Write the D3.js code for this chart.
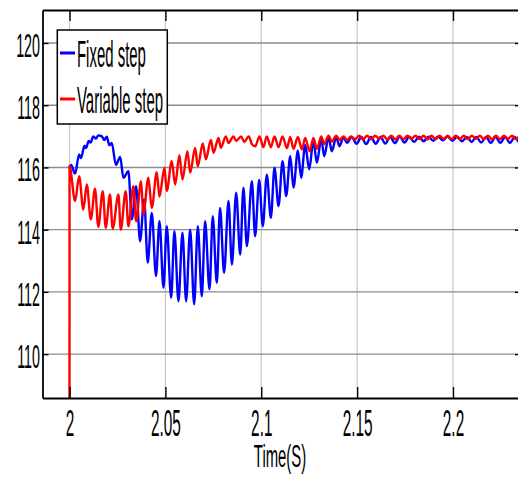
<!DOCTYPE html>
<html>
<head>
<meta charset="utf-8">
<script src="https://cdn.jsdelivr.net/npm/d3@7"></script>
<style>
  body { margin: 0; background: #fff; }
  svg { display: block; }
</style>
</head>
<body>
<div id="chart"></div>
<script>
// Tick values and labels
var xTicks = [2, 2.05, 2.1, 2.15, 2.2];
var xTickLabels = ['2', '2.05', '2.1', '2.15', '2.2'];
var yTicks = [110, 112, 114, 116, 118, 120];
var yTickLabels = ['110', '112', '114', '116', '118', '120'];
var seriesNames = ['Fixed step', 'Variable step'];

// Fixed step (blue): [time, value] at peaks and troughs
var fixedStep = [
  [2.0000, 116.00], [2.0008, 116.08], [2.0029, 115.80], [2.0050, 116.42], [2.0060, 116.30],
  [2.0078, 116.70], [2.0086, 116.62], [2.0100, 116.85], [2.0110, 116.80], [2.0124, 117.00],
  [2.0138, 116.93], [2.0150, 117.03], [2.0168, 117.00], [2.0182, 116.88], [2.0194, 116.99],
  [2.0208, 116.71], [2.0220, 116.79], [2.0242, 116.08], [2.0264, 116.34], [2.0281, 115.67],
  [2.0307, 115.88], [2.0325, 114.33], [2.0347, 115.40], [2.0368, 113.63], [2.0389, 114.97],
  [2.0408, 112.94], [2.0429, 114.54], [2.0451, 112.51], [2.0469, 114.27], [2.0490, 112.13],
  [2.0507, 114.11], [2.0530, 111.81], [2.0547, 113.95], [2.0568, 111.70], [2.0589, 113.90],
  [2.0608, 111.70], [2.0629, 114.00], [2.0650, 111.60], [2.0669, 114.11], [2.0690, 111.86],
  [2.0707, 114.27], [2.0730, 112.08], [2.0747, 114.43], [2.0768, 112.29], [2.0785, 114.70],
  [2.0806, 112.61], [2.0829, 114.92], [2.0847, 112.88], [2.0869, 115.19], [2.0890, 113.20],
  [2.0907, 115.35], [2.0925, 113.47], [2.0951, 115.56], [2.0968, 113.79], [2.0989, 115.60],
  [2.1008, 114.11], [2.1029, 115.77], [2.1050, 114.38], [2.1069, 115.99], [2.1090, 114.76],
  [2.1111, 116.20], [2.1130, 115.08], [2.1151, 116.36], [2.1168, 115.35], [2.1191, 116.55],
  [2.1208, 115.67], [2.1229, 116.72], [2.1250, 115.94], [2.1272, 116.85], [2.1290, 116.15],
  [2.1313, 116.93], [2.1328, 116.36], [2.1351, 116.97], [2.1368, 116.52], [2.1391, 116.97],
  [2.1408, 116.68], [2.1429, 116.97], [2.1447, 116.79], [2.1472, 116.98], [2.1497, 116.76],
  [2.1522, 116.98], [2.1547, 116.75], [2.1572, 116.98], [2.1597, 116.76], [2.1622, 116.98],
  [2.1647, 116.77], [2.1672, 116.98], [2.1697, 116.78], [2.1722, 116.99], [2.1747, 116.80],
  [2.1772, 116.99], [2.1797, 116.82], [2.1822, 116.99], [2.1847, 116.84], [2.1872, 116.99],
  [2.1897, 116.86], [2.1922, 116.99], [2.1947, 116.87], [2.1972, 116.99], [2.1997, 116.86],
  [2.2022, 116.99], [2.2047, 116.84], [2.2072, 116.98], [2.2097, 116.82], [2.2122, 116.98],
  [2.2147, 116.80], [2.2172, 116.98], [2.2197, 116.79], [2.2222, 116.98], [2.2247, 116.79],
  [2.2272, 116.98], [2.2297, 116.79], [2.2322, 116.98], [2.2347, 116.80], [2.2372, 116.98]
];

// Variable step (red)
var variableStep = [
  [1.99995, 100.0], [2.0000, 116.04], [2.0029, 114.92], [2.0050, 115.72], [2.0072, 114.65],
  [2.0090, 115.45], [2.0111, 114.33], [2.0133, 115.32], [2.0150, 114.09], [2.0173, 115.24],
  [2.0189, 114.06], [2.0211, 115.13], [2.0225, 114.03], [2.0255, 115.13], [2.0267, 114.00],
  [2.0293, 115.24], [2.0307, 114.11], [2.0333, 115.40], [2.0347, 114.27], [2.0373, 115.56],
  [2.0385, 114.49], [2.0411, 115.67], [2.0429, 114.70], [2.0455, 115.85], [2.0469, 115.06],
  [2.0495, 115.99], [2.0507, 115.24], [2.0533, 116.20], [2.0551, 115.45], [2.0573, 116.39],
  [2.0589, 115.61], [2.0615, 116.52], [2.0629, 115.83], [2.0655, 116.63], [2.0669, 116.04],
  [2.0695, 116.77], [2.0711, 116.26], [2.0737, 116.88], [2.0751, 116.47], [2.0777, 116.95],
  [2.0789, 116.63], [2.0815, 117.00], [2.0829, 116.79], [2.0855, 117.00], [2.0869, 116.85],
  [2.0895, 117.00], [2.0911, 116.82], [2.0935, 117.00], [2.0951, 116.75], [2.0968, 116.68],
  [2.0991, 117.00], [2.1011, 116.65], [2.1029, 117.00], [2.1050, 116.65], [2.1069, 117.00],
  [2.1090, 116.65], [2.1111, 117.00], [2.1134, 116.62], [2.1151, 116.98], [2.1168, 116.60],
  [2.1191, 116.98], [2.1212, 116.58], [2.1229, 116.95], [2.1252, 116.52], [2.1272, 116.95],
  [2.1290, 116.60], [2.1313, 117.00], [2.1328, 116.75], [2.1351, 117.02], [2.1368, 116.83],
  [2.1391, 117.02], [2.1408, 116.88], [2.1429, 117.00], [2.1447, 116.88], [2.1468, 117.00],
  [2.1489, 116.90], [2.1510, 117.02], [2.1531, 116.90], [2.1552, 117.02], [2.1573, 116.91],
  [2.1594, 117.02], [2.1615, 116.92], [2.1636, 117.02], [2.1657, 116.91], [2.1678, 117.02],
  [2.1699, 116.90], [2.1720, 117.02], [2.1741, 116.91], [2.1762, 117.02], [2.1783, 116.92],
  [2.1804, 117.02], [2.1825, 116.91], [2.1846, 117.02], [2.1867, 116.90], [2.1888, 117.02],
  [2.1909, 116.91], [2.1930, 117.02], [2.1951, 116.92], [2.1972, 117.02], [2.1993, 116.91],
  [2.2014, 117.02], [2.2035, 116.90], [2.2056, 117.02], [2.2077, 116.91], [2.2098, 117.02],
  [2.2119, 116.92], [2.2140, 117.02], [2.2161, 116.91], [2.2182, 117.02], [2.2203, 116.90],
  [2.2224, 117.02], [2.2245, 116.91], [2.2266, 117.02], [2.2287, 116.92], [2.2308, 117.02],
  [2.2329, 116.91], [2.2350, 117.02], [2.2371, 116.91]
];

var seriesColors = ['#0000ff', '#ff0000'];

var W = 518, H = 477;
var plotLeft = 42.5, plotRight = 518, plotTop = 10, plotBottom = 398;
var font = '"Liberation Sans", Arial, sans-serif';

var svg = d3.select('#chart').append('svg')
    .attr('width', W)
    .attr('height', H)
    .style('background', '#fff');

// scales
var x = d3.scaleLinear().domain([1.9859, 2.2339]).range([plotLeft, plotRight]);
var y = d3.scaleLinear().domain([108.59, 121.06]).range([plotBottom, plotTop]);

// grid
svg.append('g').selectAll('line')
    .data(xTicks)
    .enter().append('line')
    .attr('x1', function (d) { return x(d); })
    .attr('x2', function (d) { return x(d); })
    .attr('y1', plotTop).attr('y2', plotBottom)
    .attr('stroke', '#c8c8c8')
    .attr('stroke-width', 1.2);

svg.append('g').selectAll('line')
    .data(yTicks)
    .enter().append('line')
    .attr('x1', plotLeft).attr('x2', plotRight + 5)
    .attr('y1', function (d) { return y(d); })
    .attr('y2', function (d) { return y(d); })
    .attr('stroke', '#8c8c8c')
    .attr('stroke-width', 1.4);

// clip for the curves
svg.append('clipPath').attr('id', 'plot')
    .append('rect')
    .attr('x', plotLeft).attr('y', plotTop)
    .attr('width', plotRight - plotLeft + 5).attr('height', plotBottom - plotTop);

var line = d3.line()
    .x(function (d) { return x(d[0]); })
    .y(function (d) { return y(d[1]); })
    .curve(d3.curveMonotoneX);

var curves = svg.append('g').attr('clip-path', 'url(#plot)');
[fixedStep, variableStep].forEach(function (s, i) {
    curves.append('path')
        .datum(s)
        .attr('d', line)
        .attr('fill', 'none')
        .attr('stroke', seriesColors[i])
        .attr('stroke-width', 2.4)
        .attr('stroke-linejoin', 'round');
});

// axes
function styleAxis(g) {
    g.select('.domain').attr('stroke', '#000').attr('stroke-width', 1.8);
    g.selectAll('.tick line').attr('stroke', '#000').attr('stroke-width', 1.4);
    g.selectAll('text').attr('fill', '#000');
}

var xAxis = svg.append('g')
    .attr('transform', 'translate(0,' + plotBottom + ')')
    .call(d3.axisBottom(x).tickValues(xTicks).tickSize(-11).tickSizeOuter(0)
        .tickFormat(function (d, i) { return xTickLabels[i]; }))
    .call(styleAxis);
xAxis.selectAll('text')
    .attr('y', 38).attr('dy', null)
    .style('font', 'normal 37px ' + font)
    .attr('transform', 'scale(0.415,1)');

var yAxis = svg.append('g')
    .attr('transform', 'translate(' + plotLeft + ',0)')
    .call(d3.axisLeft(y).tickValues(yTicks).tickSize(-6).tickSizeOuter(0)
        .tickFormat(function (d, i) { return yTickLabels[i]; }))
    .call(styleAxis);
yAxis.selectAll('text')
    .attr('x', -2.5 / 0.44).attr('y', 13.4).attr('dy', null)
    .style('font', 'normal 32.5px ' + font)
    .attr('transform', 'scale(0.44,1)');

svg.append('g')
    .attr('transform', 'translate(0,' + plotTop + ')')
    .call(d3.axisTop(x).tickValues(xTicks).tickSize(-11).tickSizeOuter(0).tickFormat(''))
    .call(styleAxis);

svg.append('g')
    .attr('transform', 'translate(521,0)')
    .call(d3.axisRight(y).tickValues(yTicks).tickSize(-6).tickSizeOuter(0).tickFormat(''))
    .call(styleAxis);

// x label
svg.append('text')
    .attr('transform', 'translate(280,467) scale(0.48,1)')
    .attr('text-anchor', 'middle')
    .style('font', 'normal 31px ' + font)
    .text('Time(S)');

// legend
var legend = svg.append('g');
legend.append('rect')
    .attr('x', 57.3).attr('y', 30)
    .attr('width', 110).attr('height', 94)
    .attr('fill', '#fff')
    .attr('stroke', '#000')
    .attr('stroke-width', 1.5);

var legendY = [53, 99];
seriesNames.forEach(function (name, i) {
    legend.append('line')
        .attr('x1', 60).attr('x2', 75)
        .attr('y1', legendY[i]).attr('y2', legendY[i])
        .attr('stroke', seriesColors[i])
        .attr('stroke-width', 3);
    legend.append('text')
        .attr('transform', 'translate(77,' + (legendY[i] + 14) + ') scale(0.415,1)')
        .style('font', 'normal 36px ' + font)
        .text(name);
});
</script>
</body>
</html>
